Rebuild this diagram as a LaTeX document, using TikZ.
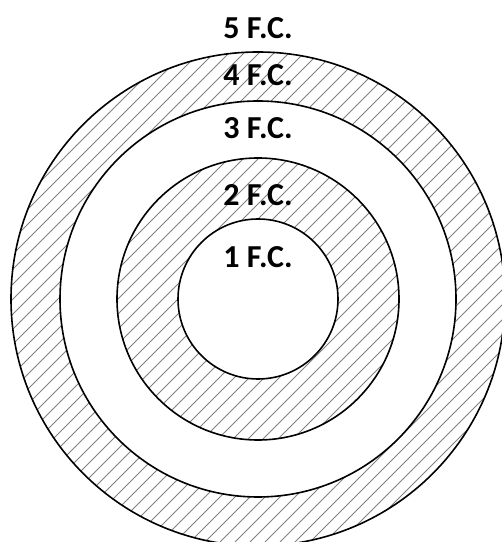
\documentclass[tikz,border=0pt]{standalone}
\usepackage{fontspec}
\setmainfont{Carlito}
\tikzset{
  ring/.style={draw, line width=1.2pt},
  hatch/.style={gray, line width=0.55pt},
  fclabel/.style={font=\fontsize{24}{28}\selectfont\bfseries, inner sep=0pt}
}
\begin{document}
\begin{tikzpicture}[x=0.75pt, y=0.75pt]
    \useasboundingbox (0,0) rectangle (501,542);
    \coordinate (c) at (258,243);

    % hatched rings (4 F.C. and 2 F.C.)
    \begin{scope}[even odd rule]
        \clip (c) circle (247) (c) circle (198)
              (c) circle (141) (c) circle (80);
        \foreach \s in {-560,-545,...,520}
            \draw[hatch] (\s,0) -- ++(560,560);
    \end{scope}

    % circles
    \foreach \r in {247, 198, 141, 80}
        \draw[ring] (c) circle (\r);

    % labels
    \node[fclabel] (fc5) at (258,514) {5 F.C.};
    \node[fclabel] (fc4) at (258,467) {4 F.C.};
    \node[fclabel] (fc3) at (258,414) {3 F.C.};
    \node[fclabel] (fc2) at (258,347) {2 F.C.};
    \node[fclabel] (fc1) at (258,285) {1 F.C.};
\end{tikzpicture}
\end{document}
